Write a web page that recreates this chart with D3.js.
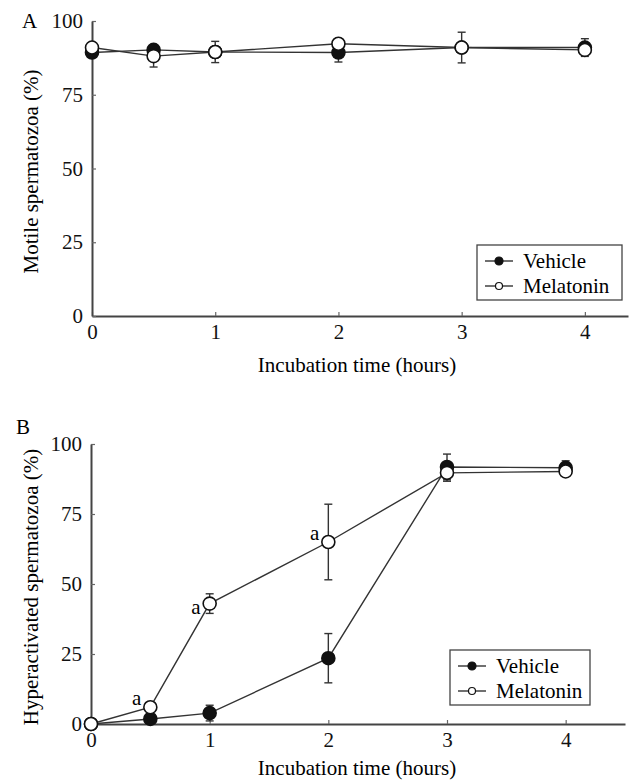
<!DOCTYPE html>
<html>
<head>
<meta charset="utf-8">
<script src="https://cdn.jsdelivr.net/npm/d3@7"></script>
<style>
  body { margin: 0; background: #fff; }
</style>
</head>
<body>
<svg width="644" height="780"></svg>
<script>
let times = [0, 0.5, 1, 2, 3, 4];
let xTicks = [0, 1, 2, 3, 4];
let yTicks = [0, 25, 50, 75, 100];

// panel A: motile spermatozoa (%)
let vehicleMotile = [89.3, 90.2, 89.5, 89.3, 91.0, 91.0];
let vehicleMotileErr = [1.0, 1.5, 1.0, 3.2, 1.0, 3.0];
let melatoninMotile = [91.0, 88.1, 89.5, 92.3, 91.0, 90.2];
let melatoninMotileErr = [1.0, 3.7, 3.6, 1.0, 5.2, 1.0];

// panel B: hyperactivated spermatozoa (%)
let vehicleHyper = [0, 1.8, 3.9, 23.5, 91.8, 91.5];
let vehicleHyperErr = [0, 1.0, 2.8, 8.8, 4.6, 2.5];
let melatoninHyper = [0, 6.0, 43.0, 65.0, 89.7, 90.2];
let melatoninHyperErr = [0, 1.0, 3.5, 13.5, 3.0, 1.5];
let signifB = [0.5, 1, 2]; // 'a' marks on melatonin

let serif = 'Liberation Serif';
let fs = 21;
let svg = d3.select('svg');

function panel(opt) {
  let x = d3.scaleLinear().domain([0, opt.xMax]).range(opt.xRange);
  let y = d3.scaleLinear().domain([0, 100]).range(opt.yRange);
  let g = svg.append('g');

  let series = [
    { name: 'Vehicle', vals: opt.vehicle, err: opt.vehicleErr, fill: '#111' },
    { name: 'Melatonin', vals: opt.melatonin, err: opt.melatoninErr, fill: '#fff' }
  ];

  // axes
  let ax = g.append('g')
      .attr('transform', `translate(0, ${y(0)})`)
      .call(d3.axisBottom(x).tickValues(xTicks).tickFormat(d3.format('d'))
        .tickSizeInner(-4).tickSizeOuter(0).tickPadding(8));
  let ay = g.append('g')
      .attr('transform', `translate(${x(0)}, 0)`)
      .call(d3.axisLeft(y).tickValues(yTicks).tickFormat(d3.format('d'))
        .tickSizeInner(-4).tickSizeOuter(0).tickPadding(9));
  [ax, ay].forEach((a) => {
    a.attr('font-family', null);
    a.select('.domain').attr('stroke', '#444').attr('stroke-width', 2);
    a.selectAll('.tick line').attr('stroke', '#666').attr('stroke-width', 1.2);
    a.selectAll('text').attr('font-family', serif).attr('font-size', fs).attr('fill', '#111');
  });

  // lines
  let line = d3.line().x((d, i) => x(times[i])).y((d) => y(d));
  series.forEach((s) => {
    g.append('path')
        .attr('d', line(s.vals))
        .attr('fill', 'none')
        .attr('stroke', '#333')
        .attr('stroke-width', 1.4);
  });

  // error bars
  series.forEach((s) => {
    let eb = g.append('g').selectAll('g')
        .data(s.vals.map((v, i) => ({ t: times[i], v: v, e: s.err[i] })).filter((d) => d.e > 0))
        .enter().append('g')
        .attr('stroke', '#333')
        .attr('stroke-width', 1.4);
    eb.append('line')
        .attr('x1', (d) => x(d.t)).attr('x2', (d) => x(d.t))
        .attr('y1', (d) => y(d.v - d.e)).attr('y2', (d) => y(d.v + d.e));
    [-1, 1].forEach((sg) => {
      eb.append('line')
          .attr('x1', (d) => x(d.t) - 4).attr('x2', (d) => x(d.t) + 4)
          .attr('y1', (d) => y(d.v + sg * d.e)).attr('y2', (d) => y(d.v + sg * d.e));
    });
  });

  // markers
  series.forEach((s) => {
    g.append('g').selectAll('circle')
        .data(s.vals)
        .enter().append('circle')
        .attr('cx', (d, i) => x(times[i]))
        .attr('cy', (d) => y(d))
        .attr('r', 6.5)
        .attr('fill', s.fill)
        .attr('stroke', '#111')
        .attr('stroke-width', 1.6);
  });

  // significance marks
  (opt.signif || []).forEach((t, k) => {
    let i = times.indexOf(t);
    g.append('text')
        .attr('x', x(t) - 9)
        .attr('y', y(opt.melatonin[i]) + (k === 1 ? 10 : -2))
        .attr('text-anchor', 'end')
        .attr('font-family', serif).attr('font-size', fs)
        .text('a');
  });

  // titles
  g.append('text')
      .attr('x', 357)
      .attr('y', opt.xTitleY)
      .attr('text-anchor', 'middle')
      .attr('font-family', serif).attr('font-size', fs)
      .text('Incubation time (hours)');
  let ym = (opt.yRange[0] + opt.yRange[1]) / 2 + 3;
  g.append('text')
      .attr('transform', `translate(38, ${ym}) rotate(-90)`)
      .attr('text-anchor', 'middle')
      .attr('font-family', serif).attr('font-size', fs)
      .text(opt.yTitle);
  g.append('text')
      .attr('x', opt.label[0])
      .attr('y', opt.label[1])
      .attr('font-family', serif).attr('font-size', fs)
      .text(opt.letter);

  // legend
  let lg = g.append('g').attr('transform', `translate(${opt.legend[0]}, ${opt.legend[1]})`);
  lg.append('rect')
      .attr('width', opt.legend[2]).attr('height', 55)
      .attr('fill', '#fff').attr('stroke', '#444').attr('stroke-width', 1.3);
  series.forEach((s, i) => {
    let ly = 16 + i * 25;
    lg.append('line')
        .attr('x1', 8).attr('x2', 36).attr('y1', ly).attr('y2', ly)
        .attr('stroke', '#333').attr('stroke-width', 1.4);
    lg.append('circle')
        .attr('cx', 22).attr('cy', ly).attr('r', i === 0 ? 4 : 3.5)
        .attr('fill', s.fill).attr('stroke', '#111').attr('stroke-width', 1.2);
    lg.append('text')
        .attr('x', 46).attr('y', ly + 7)
        .attr('font-family', serif).attr('font-size', fs)
        .text(s.name);
  });
}

panel({
  letter: 'A', label: [22, 28],
  xMax: 4.35, xRange: [92, 628], yRange: [316, 21],
  vehicle: vehicleMotile, vehicleErr: vehicleMotileErr,
  melatonin: melatoninMotile, melatoninErr: melatoninMotileErr,
  yTitle: 'Motile spermatozoa (%)', xTitleY: 372,
  legend: [477, 245, 145]
});

panel({
  letter: 'B', label: [16, 434],
  xMax: 4.5, xRange: [91, 625], yRange: [724, 444],
  vehicle: vehicleHyper, vehicleErr: vehicleHyperErr,
  melatonin: melatoninHyper, melatoninErr: melatoninHyperErr,
  signif: signifB,
  yTitle: 'Hyperactivated spermatozoa (%)', xTitleY: 775,
  legend: [450, 650, 140]
});
</script>
</body>
</html>
